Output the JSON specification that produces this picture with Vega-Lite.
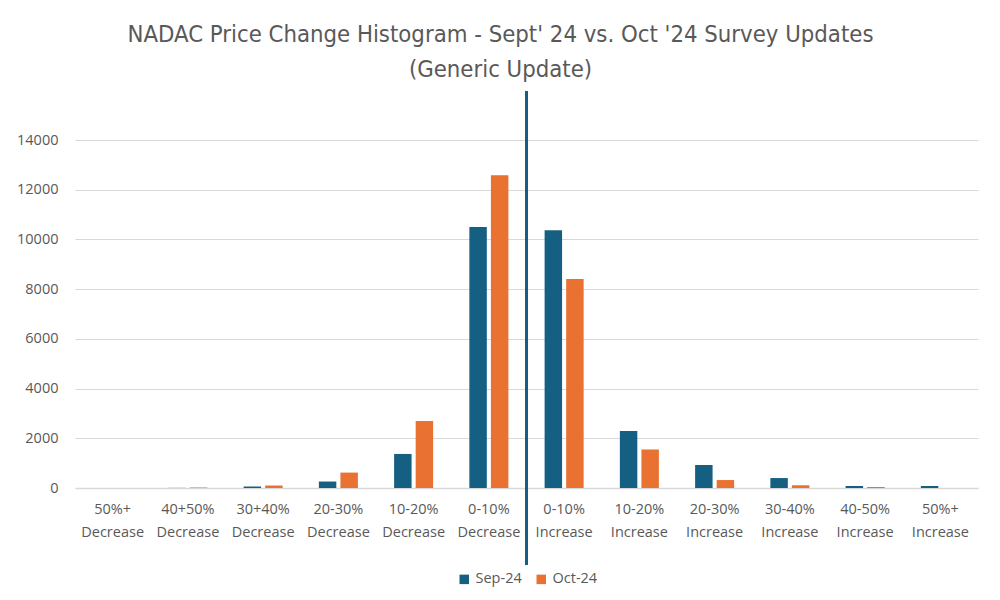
{
  "$schema": "https://vega.github.io/schema/vega-lite/v6.json",
  "width": 903,
  "height": 348,
  "autosize": {"type": "none"},
  "padding": {"left": 75, "top": 140, "right": 22, "bottom": 112},
  "background": "white",
  "config": {
    "font": "Open Sans",
    "view": {"stroke": null}
  },
  "title": {
    "text": ["NADAC Price Change Histogram - Sept' 24 vs. Oct '24 Survey Updates", "(Generic Update)"],
    "fontSize": 23.7,
    "fontWeight": "normal",
    "color": "#595959",
    "font": "DejaVu Sans Condensed",
    "lineHeight": 35,
    "anchor": "middle",
    "dx": -26,
    "offset": 9
  },
  "data": {
    "values": [
      {"bin": "50%+ Decrease", "series": "Sep-24", "count": 0},
      {"bin": "50%+ Decrease", "series": "Oct-24", "count": 0},
      {"bin": "40+50% Decrease", "series": "Sep-24", "count": 5},
      {"bin": "40+50% Decrease", "series": "Oct-24", "count": 25},
      {"bin": "30+40% Decrease", "series": "Sep-24", "count": 60},
      {"bin": "30+40% Decrease", "series": "Oct-24", "count": 100},
      {"bin": "20-30% Decrease", "series": "Sep-24", "count": 260},
      {"bin": "20-30% Decrease", "series": "Oct-24", "count": 620},
      {"bin": "10-20% Decrease", "series": "Sep-24", "count": 1370},
      {"bin": "10-20% Decrease", "series": "Oct-24", "count": 2700},
      {"bin": "0-10% Decrease", "series": "Sep-24", "count": 10500},
      {"bin": "0-10% Decrease", "series": "Oct-24", "count": 12580},
      {"bin": "0-10% Increase", "series": "Sep-24", "count": 10370},
      {"bin": "0-10% Increase", "series": "Oct-24", "count": 8410},
      {"bin": "10-20% Increase", "series": "Sep-24", "count": 2290},
      {"bin": "10-20% Increase", "series": "Oct-24", "count": 1550},
      {"bin": "20-30% Increase", "series": "Sep-24", "count": 925},
      {"bin": "20-30% Increase", "series": "Oct-24", "count": 320},
      {"bin": "30-40% Increase", "series": "Sep-24", "count": 400},
      {"bin": "30-40% Increase", "series": "Oct-24", "count": 110},
      {"bin": "40-50% Increase", "series": "Sep-24", "count": 80},
      {"bin": "40-50% Increase", "series": "Oct-24", "count": 40},
      {"bin": "50%+ Increase", "series": "Sep-24", "count": 80},
      {"bin": "50%+ Increase", "series": "Oct-24", "count": 0}
    ]
  },
  "encoding": {
    "x": {
      "field": "bin",
      "type": "nominal",
      "sort": ["50%+ Decrease", "40+50% Decrease", "30+40% Decrease", "20-30% Decrease", "10-20% Decrease", "0-10% Decrease", "0-10% Increase", "10-20% Increase", "20-30% Increase", "30-40% Increase", "40-50% Increase", "50%+ Increase"],
      "scale": {"paddingInner": 0, "paddingOuter": 0},
      "axis": {
        "title": null,
        "labelAngle": 0,
        "labelExpr": "split(datum.label, ' ')",
        "labelFontSize": 14.5,
        "labelColor": "#595959",
        "labelLineHeight": 23,
        "labelPadding": 14,
        "ticks": false,
        "domainColor": "#d9d9d9",
        "domainWidth": 1.3
      }
    }
  },
  "layer": [
    {
      "mark": {"type": "bar"},
      "encoding": {
        "y": {
          "field": "count",
          "type": "quantitative",
          "scale": {"domain": [0, 14000]},
          "axis": {
            "title": null,
            "values": [0, 2000, 4000, 6000, 8000, 10000, 12000, 14000],
            "format": "d",
            "domain": false,
            "ticks": false,
            "labelFontSize": 14.5,
            "labelColor": "#595959",
            "labelPadding": 17,
            "gridColor": "#d9d9d9",
            "gridWidth": 1
          }
        },
        "xOffset": {
          "field": "series",
          "sort": ["Sep-24", "Oct-24"],
          "scale": {"paddingInner": 0.19, "paddingOuter": 0.84}
        },
        "color": {
          "field": "series",
          "type": "nominal",
          "sort": ["Sep-24", "Oct-24"],
          "scale": {"domain": ["Sep-24", "Oct-24"], "range": ["#156082", "#E97132"]},
          "legend": {
            "title": null,
            "orient": "none",
            "legendX": 382,
            "legendY": 432,
            "direction": "horizontal",
            "symbolType": "square",
            "symbolSize": 90,
            "symbolStrokeWidth": 0,
            "labelFontSize": 14.5,
            "labelColor": "#595959",
            "columnPadding": 12
          }
        }
      }
    },
    {
      "mark": {"type": "rule", "color": "#156082", "strokeWidth": 2.5, "clip": false},
      "encoding": {
        "x": {"datum": "0-10% Increase", "bandPosition": 0},
        "y": {"datum": 15950},
        "y2": {"datum": -3100}
      }
    }
  ]
}
